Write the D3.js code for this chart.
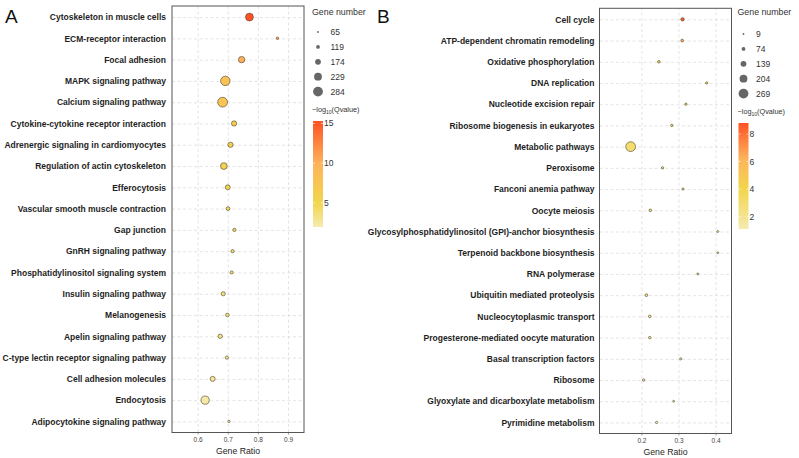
<!DOCTYPE html>
<html>
<head>
<meta charset="utf-8">
<script src="https://cdn.jsdelivr.net/npm/d3@7"></script>
<style>
  body { margin: 0; background: #fff; }
  svg { font-family: "Liberation Sans", Arial, sans-serif; }
</style>
</head>
<body>
<div id="chart"></div>
<script>
// Panel A data
var termsA = ["Cytoskeleton in muscle cells", "ECM-receptor interaction", "Focal adhesion",
    "MAPK signaling pathway", "Calcium signaling pathway", "Cytokine-cytokine receptor interaction",
    "Adrenergic signaling in cardiomyocytes", "Regulation of actin cytoskeleton", "Efferocytosis",
    "Vascular smooth muscle contraction", "Gap junction", "GnRH signaling pathway",
    "Phosphatidylinositol signaling system", "Insulin signaling pathway", "Melanogenesis",
    "Apelin signaling pathway", "C-type lectin receptor signaling pathway", "Cell adhesion molecules",
    "Endocytosis", "Adipocytokine signaling pathway"];
var ratioA = [0.772, 0.865, 0.746, 0.692, 0.683, 0.721, 0.709, 0.687, 0.700, 0.701,
    0.722, 0.716, 0.713, 0.685, 0.699, 0.675, 0.697, 0.650, 0.625, 0.704];
var countA = [230, 85, 190, 275, 284, 160, 160, 200, 150, 120,
    105, 105, 100, 130, 115, 135, 105, 155, 240, 80];
var qA = [15.3, 10.5, 10.2, 8.0, 7.6, 6.5, 6.0, 5.6, 5.0, 4.6,
    4.3, 4.1, 3.9, 3.7, 3.4, 3.2, 2.9, 2.6, 2.3, 1.96];
var sizeBreaksA = [65, 119, 174, 229, 284];
var qTicksA = [5, 10, 15];
var xTicksA = [0.6, 0.7, 0.8, 0.9];

// Panel B data
var termsB = ["Cell cycle", "ATP-dependent chromatin remodeling", "Oxidative phosphorylation",
    "DNA replication", "Nucleotide excision repair", "Ribosome biogenesis in eukaryotes",
    "Metabolic pathways", "Peroxisome", "Fanconi anemia pathway", "Oocyte meiosis",
    "Glycosylphosphatidylinositol (GPI)-anchor biosynthesis", "Terpenoid backbone biosynthesis",
    "RNA polymerase", "Ubiquitin mediated proteolysis", "Nucleocytoplasmic transport",
    "Progesterone-mediated oocyte maturation", "Basal transcription factors", "Ribosome",
    "Glyoxylate and dicarboxylate metabolism", "Pyrimidine metabolism"];
var ratioB = [0.311, 0.310, 0.247, 0.376, 0.320, 0.282, 0.171, 0.257, 0.312, 0.224,
    0.406, 0.406, 0.352, 0.2135, 0.2225, 0.2225, 0.306, 0.206, 0.287, 0.241];
var countB = [60, 40, 35, 25, 25, 30, 269, 28, 22, 35,
    14, 9, 15, 40, 35, 30, 22, 30, 12, 25];
var qB = [8.7, 6.3, 4.0, 3.7, 3.5, 3.3, 3.0, 2.8, 2.6, 2.4,
    2.3, 2.2, 2.0, 1.9, 1.8, 1.7, 1.5, 1.4, 1.2, 1.1];
var sizeBreaksB = [9, 74, 139, 204, 269];
var qTicksB = [2, 4, 6, 8];
var xTicksB = [0.2, 0.3, 0.4];

var palette = ["#f6eab0", "#f2d64c", "#fdb35c", "#ff5122"];

var svg = d3.select("#chart").append("svg")
    .attr("width", 799)
    .attr("height", 458);

var defs = svg.append("defs");

function drawPanel(cfg) {
    var g = svg.append("g");

    var x = d3.scaleLinear().domain(cfg.xDomain).range([cfg.left, cfg.right]);
    var y = d3.scalePoint().domain(cfg.terms).range([cfg.top, cfg.bottom]).padding(0.52);
    var r = d3.scaleLinear().domain([cfg.sizeBreaks[0], cfg.sizeBreaks[4]]).range([0.9, 4.9]);
    var color = d3.scaleLinear().domain(cfg.colorStops).range(palette);

    // grid
    g.append("g")
        .attr("transform", "translate(0," + cfg.bottom + ")")
        .call(d3.axisBottom(x).tickValues(cfg.xTicks).tickSize(-(cfg.bottom - cfg.top)).tickFormat(""))
        .call(a => a.select(".domain").remove())
        .selectAll("line")
        .attr("stroke", "#d9d9d9")
        .attr("stroke-width", 0.7)
        .attr("stroke-dasharray", "3,2.5");

    g.append("g")
        .attr("transform", "translate(" + cfg.left + ",0)")
        .call(d3.axisLeft(y).tickSize(-(cfg.right - cfg.left)).tickFormat(""))
        .call(a => a.select(".domain").remove())
        .selectAll("line")
        .attr("stroke", "#d9d9d9")
        .attr("stroke-width", 0.7)
        .attr("stroke-dasharray", "3,2.5");

    // x tick labels
    g.append("g")
        .attr("transform", "translate(0," + cfg.bottom + ")")
        .call(d3.axisBottom(x).tickValues(cfg.xTicks).tickSize(2).tickPadding(3).tickFormat(d3.format(".1f")))
        .call(a => a.select(".domain").remove())
        .call(a => a.selectAll("line").attr("stroke", "#555").attr("stroke-width", 0.6))
        .selectAll("text")
        .attr("fill", "#444")
        .style("font-size", "6.5px");

    // y labels
    g.append("g")
        .attr("transform", "translate(" + cfg.left + ",0)")
        .call(d3.axisLeft(y).tickSize(0).tickPadding(cfg.labelPad))
        .call(a => a.select(".domain").remove())
        .selectAll("text")
        .attr("fill", "#1e1e1e")
        .style("font-size", "8.5px")
        .style("font-weight", "bold");

    // points
    var rows = cfg.terms.map((t, i) => ({ term: t, ratio: cfg.ratio[i], count: cfg.count[i], q: cfg.q[i] }));
    g.append("g").selectAll("circle")
        .data(rows)
        .enter()
        .append("circle")
        .attr("cx", d => x(d.ratio))
        .attr("cy", d => y(d.term))
        .attr("r", d => r(d.count))
        .attr("fill", d => color(d.q))
        .attr("stroke", "#4a3f2a")
        .attr("stroke-width", 0.6);

    // panel border
    g.append("rect")
        .attr("x", cfg.left)
        .attr("y", cfg.top)
        .attr("width", cfg.right - cfg.left)
        .attr("height", cfg.bottom - cfg.top)
        .attr("fill", "none")
        .attr("stroke", "#555")
        .attr("stroke-width", 1);

    // axis title
    g.append("text")
        .attr("x", (cfg.left + cfg.right) / 2)
        .attr("y", cfg.bottom + 21)
        .attr("text-anchor", "middle")
        .attr("fill", "#1e1e1e")
        .style("font-size", "8.7px")
        .text("Gene Ratio");

    // panel letter
    g.append("text")
        .attr("x", cfg.letterX)
        .attr("y", 23)
        .attr("fill", "#111")
        .style("font-size", "19px")
        .text(cfg.letter);

    // size legend
    var lx = cfg.legendX;
    g.append("text")
        .attr("x", lx)
        .attr("y", 15)
        .attr("fill", "#333")
        .style("font-size", "8.8px")
        .text("Gene number");

    var sizeLegend = g.selectAll(".sizeLegend")
        .data(cfg.sizeBreaks)
        .enter()
        .append("g")
        .attr("transform", (d, i) => "translate(" + (lx + 6) + "," + (cfg.legendTop + i * 14.9) + ")");

    sizeLegend.append("circle")
        .attr("r", d => r(d))
        .attr("fill", "#666");

    sizeLegend.append("text")
        .attr("x", 12.5)
        .attr("dy", "0.35em")
        .attr("fill", "#333")
        .style("font-size", "8.5px")
        .text(d => d);

    // colour legend
    var title = g.append("text")
        .attr("x", lx)
        .attr("y", cfg.legendTop + 80)
        .attr("fill", "#333")
        .style("font-size", "7.3px");
    title.append("tspan").text("\u2212log");
    title.append("tspan").attr("dy", 2).style("font-size", "5px").text("10");
    title.append("tspan").attr("dy", -2).text("(Qvalue)");

    var barTop = cfg.legendTop + 89, barBottom = barTop + 106;
    var cs = d3.scaleLinear().domain(cfg.qRange).range([barBottom, barTop]);

    var gradId = "grad" + cfg.letter;
    var grad = defs.append("linearGradient")
        .attr("id", gradId)
        .attr("x1", 0).attr("y1", 1).attr("x2", 0).attr("y2", 0);
    d3.range(0, 1.0001, 0.05).forEach(function (t) {
        var v = cfg.qRange[0] + t * (cfg.qRange[1] - cfg.qRange[0]);
        grad.append("stop").attr("offset", t).attr("stop-color", color(v));
    });

    g.append("rect")
        .attr("x", lx + 1)
        .attr("y", barTop)
        .attr("width", 10)
        .attr("height", barBottom - barTop)
        .attr("fill", "url(#" + gradId + ")");

    var qt = g.selectAll(".qtick")
        .data(cfg.qTicks)
        .enter()
        .append("g")
        .attr("transform", d => "translate(" + (lx + 1) + "," + cs(d) + ")");

    qt.append("line").attr("x1", 0).attr("x2", 2).attr("stroke", "#fff").attr("stroke-width", 0.6);
    qt.append("line").attr("x1", 8).attr("x2", 10).attr("stroke", "#fff").attr("stroke-width", 0.6);
    qt.append("text")
        .attr("x", 11)
        .attr("dy", "0.35em")
        .attr("fill", "#333")
        .style("font-size", "8.5px")
        .text(d => d);
}

drawPanel({
    letter: "A", letterX: 5,
    terms: termsA, ratio: ratioA, count: countA, q: qA,
    sizeBreaks: sizeBreaksA, qTicks: qTicksA, xTicks: xTicksA,
    xDomain: [0.515, 0.953],
    left: 172, right: 304, top: 6, bottom: 432.5, labelPad: 6,
    colorStops: [1.96, 5, 10, 15.3], qRange: [1.96, 15.3],
    legendX: 312, legendTop: 32
});

drawPanel({
    letter: "B", letterX: 377,
    terms: termsB, ratio: ratioB, count: countB, q: qB,
    sizeBreaks: sizeBreaksB, qTicks: qTicksB, xTicks: xTicksB,
    xDomain: [0.087, 0.443],
    left: 599.5, right: 731.5, top: 8.3, bottom: 433.5, labelPad: 5,
    colorStops: [1.1, 4, 6.2, 8.8], qRange: [1.1, 8.8],
    legendX: 737.5, legendTop: 34
});
</script>
</body>
</html>
